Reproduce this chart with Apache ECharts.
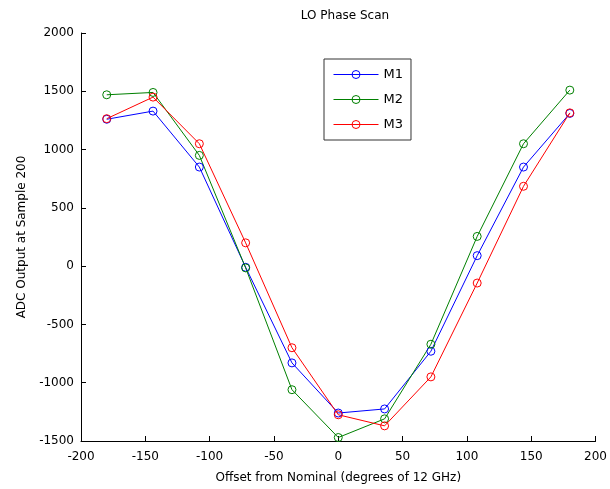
<!DOCTYPE html>
<html>
<head>
<meta charset="utf-8">
<script src="https://cdn.jsdelivr.net/npm/echarts@6/dist/echarts.min.js"></script>
<style>
  html, body { margin: 0; padding: 0; background: #fff; }
  #chart { width: 610px; height: 489px; }
</style>
</head>
<body>
<div id="chart"></div>
<script>
// LO phase offsets (degrees of 12 GHz)
const offsets = [-180, -144, -108, -72, -36, 0, 36, 72, 108, 144, 180];
// ADC output at sample 200 for each module
const m1 = [1260, 1330, 850, -10, -830, -1260, -1225, -730, 90, 850, 1310];
const m2 = [1470, 1490, 950, -15, -1060, -1470, -1310, -670, 255, 1050, 1510];
const m3 = [1265, 1450, 1050, 200, -700, -1275, -1370, -950, -145, 685, 1315];
const seriesNames = ['M1', 'M2', 'M3'];
const seriesColors = ['#0000ff', '#008000', '#ff0000'];

const font = '"DejaVu Sans", Verdana, sans-serif';
const pairs = (ys) => offsets.map((x, i) => [x, ys[i]]);

const chart = echarts.init(document.getElementById('chart'), null, { renderer: 'canvas' });

const axisCommon = {
  axisLine: { show: true, onZero: false, lineStyle: { color: '#000', width: 1 } },
  axisTick: { show: true, inside: true, length: 5, lineStyle: { color: '#000' } },
  splitLine: { show: false },
  axisLabel: { color: '#000', fontSize: 12, fontFamily: font, formatter: (v) => String(v) },
  nameTextStyle: { color: '#000', fontSize: 12, fontFamily: font }
};

chart.setOption({
  animation: false,
  backgroundColor: '#fff',
  title: {
    text: 'LO Phase Scan',
    left: 340,
    top: 5,
    textAlign: 'center',
    textStyle: { color: '#000', fontSize: 12, fontWeight: 'normal', fontFamily: font }
  },
  grid: { left: 81, right: 12, top: 33, bottom: 47 },
  legend: {
    orient: 'vertical',
    left: 324,
    top: 59,
    padding: [9, 8, 9, 9],
    itemGap: 12,
    itemWidth: 45,
    itemHeight: 10,
    borderColor: '#333',
    borderWidth: 1,
    backgroundColor: '#fff',
    itemStyle: { borderWidth: 1 },
    lineStyle: { width: 1 },
    textStyle: { color: '#000', fontSize: 13, fontFamily: font },
    data: seriesNames
  },
  xAxis: Object.assign({}, axisCommon, {
    type: 'value',
    min: -200,
    max: 200,
    interval: 50,
    name: 'Offset from Nominal (degrees of 12 GHz)',
    nameLocation: 'middle',
    nameGap: 31,
    axisLabel: Object.assign({}, axisCommon.axisLabel, { margin: 10 })
  }),
  yAxis: Object.assign({}, axisCommon, {
    type: 'value',
    min: -1500,
    max: 2000,
    interval: 500,
    name: 'ADC Output at Sample 200',
    nameLocation: 'middle',
    nameGap: 53,
    axisLabel: Object.assign({}, axisCommon.axisLabel, { margin: 7 })
  }),
  series: [m1, m2, m3].map((ys, i) => ({
    name: seriesNames[i],
    type: 'line',
    data: pairs(ys),
    symbol: 'circle',
    symbolSize: 8,
    color: seriesColors[i],
    lineStyle: { width: 1, color: seriesColors[i] },
    itemStyle: { color: 'rgba(255,255,255,0)', borderColor: seriesColors[i], borderWidth: 1 }
  }))
});
</script>
</body>
</html>
